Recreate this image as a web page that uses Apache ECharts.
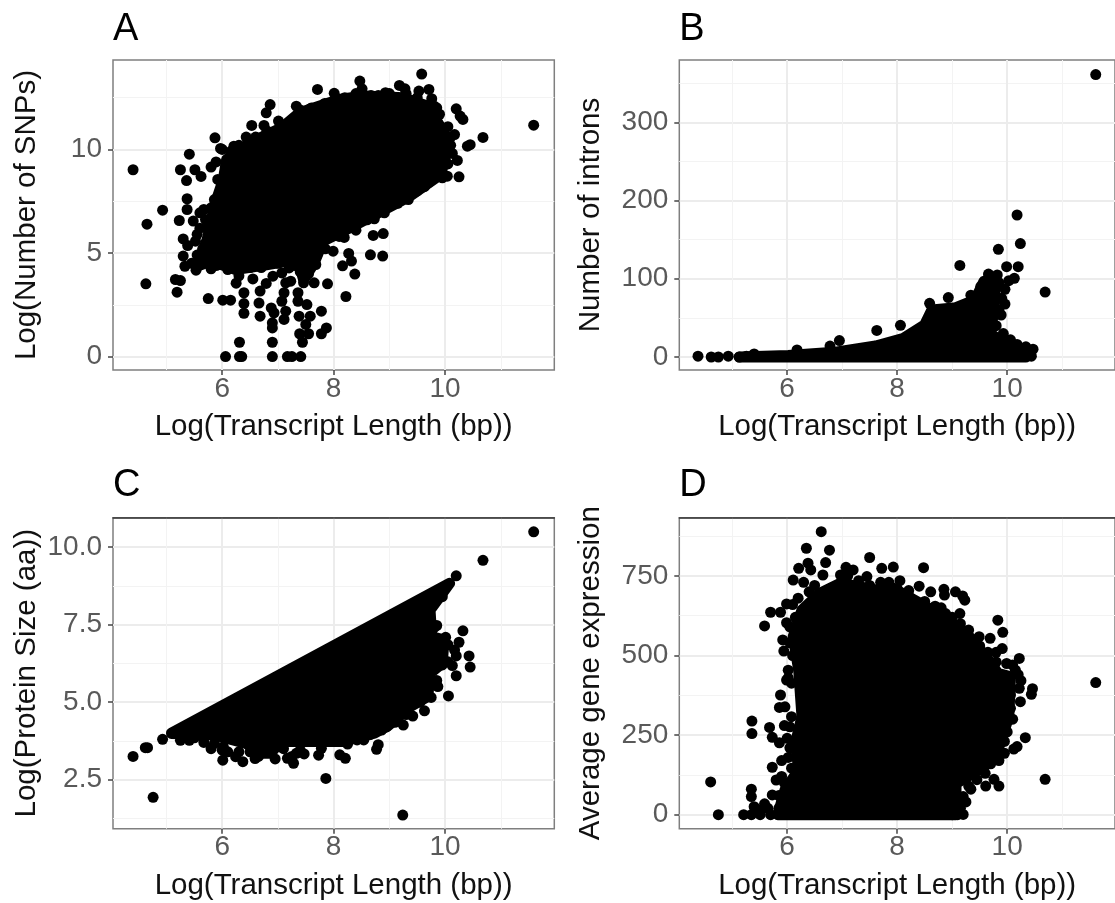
<!DOCTYPE html>
<html>
<head>
<meta charset="utf-8">
<title>Transcript length panels</title>
<script src="https://cdn.jsdelivr.net/npm/echarts@6/dist/echarts.min.js"></script>
<style>
  html, body { margin: 0; padding: 0; background: #fff; overflow: hidden; }
  #chart { width: 1115px; height: 903px; }
</style>
</head>
<body>
<div id="chart"></div>
<script>
// x axis is the same on all four panels
const xRange = [4.04, 11.96];
const xMajor = [6, 8, 10];
const xMinor = [5, 7, 9, 11];

// Panel A: Log(Number of SNPs). Core = outline of the saturated black area, dots = points that can be told apart
const snpRange = [-0.65, 14.32];
const snpMajor = [0, 5, 10];
const snpMinor = [2.5, 7.5, 12.5];
const snpCore = [
  [5.73, 5.65], [5.86, 7.26], [6.02, 8.55], [6.08, 9.52], [6.5, 10.32], [7.07, 11.05], [7.39, 11.77],
  [8.1, 12.42], [8.54, 12.58], [9.25, 12.5], [9.69, 12.09], [9.98, 10.8], [10.01, 9.68], [9.92, 8.79],
  [9.37, 7.75], [8.8, 6.94], [8.35, 6.3], [7.81, 5.57], [7.65, 4.52], [7.46, 3.72], [7.36, 4.69],
  [6.82, 4.44], [6.24, 4.2], [5.8, 4.61], [5.54, 4.36]
];
const snpDots = [
  [11.59, 11.17], [4.4, 9.02], [4.65, 6.39], [4.93, 7.07], [4.63, 3.51], [5.41, 9.77], [5.25, 9.02], [5.51, 9.02],
  [5.62, 8.7], [5.36, 8.5], [5.87, 10.56], [5.97, 10.05], [5.89, 9.4], [5.8, 9.15], [5.37, 7.62], [5.37, 7.1],
  [5.23, 6.57], [5.48, 6.54], [5.67, 7.1], [5.3, 5.68], [5.38, 5.36], [5.52, 5.57], [5.3, 4.85], [5.33, 4.36],
  [5.53, 4.17], [5.8, 4.24], [5.16, 3.72], [5.25, 3.67], [5.19, 3.11], [5.75, 2.8], [6.01, 2.72], [6.15, 2.72],
  [6.25, 3.54], [6.39, 3.08], [6.39, 2.56], [6.39, 2.09], [6.55, 3.75], [6.68, 1.95], [6.66, 2.58], [6.68, 3.16],
  [6.79, 3.53], [6.88, 2.35], [6.93, 2.11], [6.9, 1.63], [6.9, 1.38], [6.9, 0.69], [6.9, 0], [7.17, 0], [7.25, 0],
  [7.41, 0], [6.06, 0], [6.31, 0], [6.35, 0], [6.31, 0.69], [7.44, 0.69], [7.39, 1.1], [7.55, 1.1], [7.78, 1.1],
  [7.87, 1.38], [7.5, 1.55], [7.58, 1.95], [7.78, 2.19], [7.11, 1.79], [7.14, 2.19], [7.07, 2.67], [7.11, 3.08],
  [7.38, 1.95], [7.36, 2.67], [7.52, 2.51], [7.36, 3.08], [6.91, 3.88], [7.14, 3.56], [7.23, 3.64], [7.07, 4.04],
  [7.2, 4.28], [7.46, 3.56], [7.65, 3.56], [7.89, 3.51], [7.68, 4.44], [8.22, 2.9], [8.38, 3.98], [8.16, 4.38],
  [8.32, 4.61], [8.27, 4.98], [7.99, 5.09], [8.19, 5.75], [8.66, 4.91], [8.88, 4.85], [8.71, 5.85], [8.89, 5.94],
  [8.73, 6.65], [8.91, 6.94], [9.58, 13.64], [8.47, 13.3], [8.51, 12.93], [7.71, 12.9], [8.01, 12.71], [9.18, 13.09],
  [9.28, 12.93], [8.93, 12.74], [8.67, 12.61], [9.53, 12.82], [9.71, 12.9], [9.76, 12.45], [10.2, 11.96], [10.27, 11.61],
  [10.32, 11.45], [10.17, 10.72], [10.68, 10.58], [10.45, 10.23], [10.4, 10.16], [10.13, 9.81], [10.22, 9.47],
  [10.25, 8.68], [10.04, 8.71], [9.95, 8.63], [9.63, 8.2], [9.34, 7.58], [6.86, 12.17], [6.79, 11.77], [7.33, 12.09],
  [7.58, 11.96], [7.84, 12.22], [6.53, 11.16], [6.75, 11.16], [7.01, 11.37], [6.43, 10.6], [6.21, 10.16], [9.85, 12.01],
  [5.8, 7.18], [5.6, 6.94], [5.7, 6.62], [5.86, 7.58], [5.92, 8.55],
  [5.95, 7.9], [5.95, 6.9], [5.85, 6.7], [5.75, 6.3], [5.6, 6.2], [5.55, 5.9], [5.65, 5.2], [5.55, 4.9], [5.7, 4.7],
  [5.45, 4.5], [6, 10], [6.15, 9.9], [6.3, 10.2], [6.6, 10.6], [6.8, 10.9], [7.2, 11.3], [7.4, 11.9], [7.6, 12],
  [7.9, 12.2], [8.2, 12.5], [8.4, 12.7], [8.8, 12.6], [9, 12.7], [9.3, 12.7], [9.5, 12.5], [9.8, 12.1], [9.9, 11.7],
  [10.05, 11.1], [10.1, 10.6], [10.1, 10.2], [10.05, 9.3], [9.7, 8.4], [9.5, 8], [9.15, 7.4], [8.95, 7.2], [8.6, 6.6],
  [8.4, 6.1], [8.1, 5.8], [7.85, 5.2], [7.7, 4.9], [7.55, 4], [7.4, 4.1], [7.3, 4.4], [7, 4.5], [6.7, 4.3], [6.5, 4.3],
  [6.3, 3.9], [6.1, 4.2], [5.9, 4.4]
];

// Panel B: Number of introns
const intronRange = [-16.6, 379.6];
const intronMajor = [0, 100, 200, 300];
const intronMinor = [50, 150, 250, 350];
const intronCore = [
  [5.13, 0], [6.02, 2], [6.85, 6], [7.61, 14], [8.12, 24], [8.5, 41], [8.63, 60], [9.07, 63], [9.42, 73],
  [9.58, 97], [9.77, 99], [9.78, 75], [9.7, 30], [10.09, 9], [10.34, 3], [10.34, 0]
];
const intronDots = [
  [11.61, 361], [10.18, 181.5], [10.24, 145], [9.84, 137.6], [9.14, 117], [9.99, 115.5], [10.2, 115.5], [10.69, 83],
  [10.13, 100.6], [10.03, 97.6], [9.82, 104.8], [9.66, 106], [9.96, 86.5], [9.96, 67.7], [9.89, 53.7], [9.93, 30],
  [10.18, 16], [10.34, 13], [10.47, 10], [10.44, 1], [10.25, 1], [10.06, 22], [7.63, 34], [8.06, 40.5], [6.95, 21],
  [8.93, 76], [8.59, 68.6], [9.34, 79], [9.52, 90], [4.38, 1], [4.62, 0], [4.75, 0], [4.93, 1], [5.13, 0], [5.26, 1],
  [5.4, 4], [6.18, 9], [6.78, 14], [9.85, 95], [9.9, 75], [9.85, 60], [9.8, 40]
];

// Panel C: Log(Protein Size (aa))
const proteinRange = [0.92, 10.945];
const proteinMajor = [2.5, 5, 7.5, 10];
const proteinMinor = [1.25, 3.75, 6.25, 8.75];
const proteinCore = [
  [5.09, 4], [10.08, 8.83], [9.95, 8.51], [9.73, 7.97], [9.76, 7.11], [9.98, 7], [9.95, 6.25], [9.73, 5.93],
  [9.69, 5.18], [9.37, 4.85], [8.99, 4.26], [8.73, 4], [8.16, 3.73], [7.46, 3.73], [7.01, 3.73], [6.88, 3.35],
  [6.69, 3.35], [6.43, 3.67], [5.86, 3.94], [5.09, 3.99]
];
const proteinDots = [
  [11.59, 10.49], [10.68, 9.57], [10.2, 9.07], [4.4, 3.25], [4.62, 3.53], [4.66, 3.53], [4.93, 3.8], [4.76, 1.93],
  [7.86, 2.54], [9.24, 1.36], [5.25, 3.77], [5.41, 3.77], [5.67, 3.7], [5.16, 4.02], [6.01, 3.13], [6.37, 3.08],
  [6.24, 3.24], [6.59, 3.18], [6.5, 3.4], [6.95, 3.17], [6.77, 3.46], [7.17, 3.19], [7.28, 3.03], [7.33, 3.35],
  [7.47, 3.33], [7.73, 3.29], [7.78, 3.51], [8.11, 3.3], [8.21, 3.19], [8.42, 3.78], [8.54, 3.78], [8.77, 3.48],
  [8.8, 3.63], [8.86, 4.1], [9.25, 4.26], [9.42, 4.55], [9.63, 4.72], [10.06, 5.2], [9.87, 5.5], [10.2, 5.85],
  [10.13, 6.18], [10.45, 6.13], [10.43, 6.49], [10.2, 6.49], [10.17, 6.68], [10.25, 6.93], [10.32, 7.3], [9.85, 7.47],
  [10.01, 7.09], [9.95, 8.4], [5.86, 3.67], [7.01, 3.56], [6.02, 3.56],
  [5.5, 3.85], [5.8, 3.5], [6, 3.45], [6.1, 3.4], [6.3, 3.4], [6.65, 3.25], [6.85, 3.45], [7.1, 3.5], [7.25, 3.25],
  [7.4, 3.45], [7.8, 3.75], [8.25, 3.65], [8.65, 3.95], [8.95, 4.2], [9.1, 4.35], [9.3, 4.6], [9.55, 5], [9.75, 5.15],
  [9.85, 5.7], [9.95, 6.2], [10.05, 6.3], [10.05, 6.85], [9.8, 7.4], [9.7, 7.7]
];

// Panel D: Average gene expression
const exprRange = [-44, 933];
const exprMajor = [0, 250, 500, 750];
const exprMinor = [125, 375, 625, 875];
const exprCore = [
  [5.83, 0], [5.96, 77], [6.21, 140], [6.15, 224], [6.27, 308], [6.21, 454], [6.11, 559], [6.27, 643], [6.59, 695],
  [6.97, 727], [7.61, 706], [7.93, 711], [8.31, 674], [8.75, 632], [9.26, 570], [9.71, 475], [9.83, 444], [10.06, 433],
  [10.03, 308], [9.83, 203], [9.58, 151], [9.07, 98], [9.07, 0]
];
const exprDots = [
  [11.61, 415], [10.69, 111], [4.61, 103], [4.75, 0], [6.62, 889], [6.35, 837], [6.77, 831], [7.5, 808], [6.7, 792],
  [6.38, 790], [6.21, 774], [6.11, 737], [6.43, 769], [6.65, 753], [7.07, 777], [7.2, 769], [6.97, 753], [7.45, 748],
  [7.72, 774], [7.93, 778], [8.48, 776], [8.05, 735], [8.4, 718], [8.21, 704], [8.61, 700], [8.85, 708], [8.86, 690],
  [9.06, 700], [9.19, 687], [9.23, 674], [9.14, 632], [8.88, 632], [8.69, 655], [9.83, 611], [9.92, 573], [9.91, 522],
  [10.22, 491], [9.69, 554], [9.49, 559], [9.99, 475], [10.15, 454], [10.25, 421], [10.46, 396], [10.44, 378],
  [10.22, 397], [10.24, 355], [10.06, 376], [10.06, 334], [9.96, 292], [10.33, 242], [10.18, 214], [10.12, 206],
  [9.95, 193], [9.87, 245], [9.61, 90], [9.76, 111], [9.85, 90], [9.34, 80], [9.2, 57], [9.2, 1], [5.59, 593], [5.7, 636],
  [5.88, 636], [5.99, 662], [5.99, 603], [5.92, 549], [5.94, 514], [6.02, 454], [5.99, 423], [5.88, 376], [5.86, 337],
  [5.36, 294], [5.36, 255], [5.68, 274], [5.73, 243], [5.86, 226], [6.02, 180], [5.73, 149], [5.8, 109], [5.35, 80],
  [5.35, 57], [5.4, 25], [5.59, 34], [5.73, 62], [5.21, 0], [5.35, 0], [5.51, 0], [5.7, 0], [6.08, 146], [6.05, 276],
  [6.08, 308], [5.96, 339], [6.08, 413],
  [6.3, 730], [6.5, 720], [6.2, 680], [6.15, 620], [6.4, 700], [7.1, 750], [7.3, 735], [7.5, 720], [7.7, 730], [7.85, 730],
  [8, 710], [8.2, 690], [8.5, 670], [8.8, 650], [9, 620], [9.15, 600], [9.3, 580], [9.5, 530], [9.65, 510], [9.8, 480],
  [9.8, 510], [6.1, 660], [6.05, 590], [6.05, 540], [6.1, 500], [6.02, 430], [5.95, 280], [6, 240], [6.05, 210], [5.9, 170],
  [5.9, 120], [5.95, 100], [5.85, 60], [5.95, 60], [5.85, 20], [6, 20], [5.65, 20], [5.5, 15], [10.1, 300], [10, 260],
  [9.95, 230], [9.85, 170], [9.7, 160], [9.6, 130], [9.45, 110], [9.3, 90], [9.25, 40], [9.15, 20], [9.1, 0], [9, 0],
  [10.1, 470], [10.2, 440]
];

const panels = [
  { tag: "A", yName: "Log(Number of SNPs)", left: 113, top: 60, bottom: 370, right: 554.3, tagGap: 54, yRange: snpRange, yMajor: snpMajor, yMinor: snpMinor, core: snpCore, dots: snpDots, fmt: (v) => String(v) },
  { tag: "B", yName: "Number of introns", left: 679.3, top: 60, bottom: 370, right: 1121, tagGap: 54, yRange: intronRange, yMajor: intronMajor, yMinor: intronMinor, core: intronCore, dots: intronDots, fmt: (v) => String(v) },
  { tag: "C", yName: "Log(Protein Size (aa))", left: 113, top: 517.7, bottom: 828.7, right: 554.3, tagGap: 56, yRange: proteinRange, yMajor: proteinMajor, yMinor: proteinMinor, core: proteinCore, dots: proteinDots, fmt: (v) => v.toFixed(1) },
  { tag: "D", yName: "Average gene expression", left: 679.3, top: 517.7, bottom: 828.7, right: 1121, tagGap: 56, yRange: exprRange, yMajor: exprMajor, yMinor: exprMinor, core: exprCore, dots: exprDots, fmt: (v) => String(v) },
];

const fontFamily = "Liberation Sans";
const gridOpt = [], xAxisOpt = [], yAxisOpt = [], seriesOpt = [], titleOpt = [];

panels.forEach((p, i) => {
  gridOpt.push({
    show: true,
    left: p.left,
    top: p.top,
    width: p.right - p.left,
    height: p.bottom - p.top,
    borderColor: "#7f7f7f",
    borderWidth: 1.5,
    backgroundColor: "#fff",
  });
  titleOpt.push({
    text: p.tag,
    left: p.left - 5,
    top: p.top - p.tagGap,
    textStyle: { fontFamily, fontSize: 38, fontWeight: "normal", color: "#000" },
  });

  // major axes carry ticks, labels and the thicker grid
  xAxisOpt.push({
    type: "value",
    gridIndex: i,
    min: xRange[0],
    max: xRange[1],
    name: "Log(Transcript Length (bp))",
    nameLocation: "middle",
    nameGap: 42,
    nameTextStyle: { fontFamily, fontSize: 29.5, color: "#111" },
    axisLine: { show: false, onZero: false },
    axisTick: { show: true, length: 5, customValues: xMajor, lineStyle: { color: "#444", width: 1.5 } },
    axisLabel: { customValues: xMajor, fontFamily, fontSize: 28, color: "#595959", margin: 5 },
    splitLine: { show: true, lineStyle: { color: "#ececec", width: 2 } },
  });
  yAxisOpt.push({
    type: "value",
    gridIndex: i,
    min: p.yRange[0],
    max: p.yRange[1],
    name: p.yName,
    nameLocation: "middle",
    nameGap: i % 2 === 0 ? 71 : 73,
    nameTextStyle: { fontFamily, fontSize: 29.5, color: "#111" },
    axisLine: { show: false, onZero: false },
    axisTick: { show: true, length: 5, customValues: p.yMajor, lineStyle: { color: "#444", width: 1.5 } },
    axisLabel: { customValues: p.yMajor, formatter: p.fmt, fontFamily, fontSize: 28, color: "#595959", margin: 11 },
    splitLine: { show: true, lineStyle: { color: "#ececec", width: 2 } },
  });

  // second pair of axes only draws the thin minor grid (and the darker top edge on the lower row)
  xAxisOpt.push({
    type: "value",
    gridIndex: i,
    min: xRange[0],
    max: xRange[1],
    position: "top",
    axisLine: { show: i >= 2, onZero: false, lineStyle: { color: "#3a3a3a", width: 1.5 } },
    axisTick: { show: false, customValues: xMinor },
    axisLabel: { show: false, customValues: xMinor },
    splitLine: { show: true, lineStyle: { color: "#f3f3f3", width: 1 } },
  });
  yAxisOpt.push({
    type: "value",
    gridIndex: i,
    min: p.yRange[0],
    max: p.yRange[1],
    position: "right",
    axisLine: { show: false },
    axisTick: { show: false, customValues: p.yMinor },
    axisLabel: { show: false, customValues: p.yMinor },
    splitLine: { show: true, lineStyle: { color: "#f3f3f3", width: 1 } },
  });

  seriesOpt.push({
    type: "custom",
    xAxisIndex: i * 2,
    yAxisIndex: i * 2,
    data: [p.core[0]],
    silent: true,
    renderItem: (params, api) => ({
      type: "polygon",
      shape: { points: p.core.map((pt) => api.coord(pt)) },
      // stroke as wide as one dot so the outline sits like the edge of the overplotted points
      style: { fill: "#000", stroke: "#000", lineWidth: 11, lineJoin: "round" },
    }),
  });
  seriesOpt.push({
    type: "scatter",
    xAxisIndex: i * 2,
    yAxisIndex: i * 2,
    data: p.dots,
    symbolSize: 11,
    itemStyle: { color: "#000", opacity: 1 },
    silent: true,
  });
});

const myChart = echarts.init(document.getElementById("chart"), null, { renderer: "canvas" });
myChart.setOption({
  animation: false,
  backgroundColor: "#fff",
  title: titleOpt,
  grid: gridOpt,
  xAxis: xAxisOpt,
  yAxis: yAxisOpt,
  series: seriesOpt,
});
</script>
</body>
</html>
